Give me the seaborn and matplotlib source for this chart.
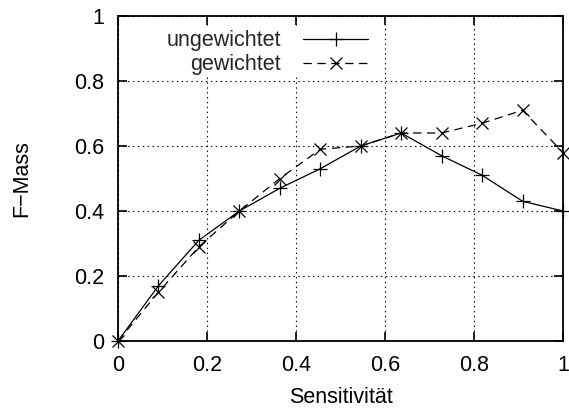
import matplotlib
matplotlib.use("Agg")
import matplotlib.pyplot as plt
import seaborn as sns
import pandas as pd

# Sensitivity steps (k/11) and F-measure values for both variants
sensitivitaet = [0.0, 1/11, 2/11, 3/11, 4/11, 5/11, 6/11, 7/11, 8/11, 9/11, 10/11, 1.0]
f_ungewichtet = [0.0, 0.17, 0.31, 0.40, 0.47, 0.53, 0.60, 0.64, 0.57, 0.51, 0.43, 0.40]
f_gewichtet = [0.0, 0.15, 0.29, 0.40, 0.50, 0.59, 0.60, 0.64, 0.64, 0.67, 0.71, 0.58]

x_ticks = [0, 0.2, 0.4, 0.6, 0.8, 1]
y_ticks = [0, 0.2, 0.4, 0.6, 0.8, 1]
tick_labels = ["0", "0.2", "0.4", "0.6", "0.8", "1"]

sns.set_theme(style="white")
plt.rcParams["font.family"] = ["Liberation Sans", "DejaVu Sans"]
plt.rcParams["lines.scale_dashes"] = False

fs = 15.5
fig = plt.figure(figsize=(5.69, 4.12), dpi=100)
ax = fig.add_axes([118 / 569, 71 / 412, 445 / 569, 325 / 412])

df_u = pd.DataFrame({"x": sensitivitaet, "y": f_ungewichtet})
df_g = pd.DataFrame({"x": sensitivitaet, "y": f_gewichtet})

sns.lineplot(data=df_u, x="x", y="y", ax=ax, color="black", linewidth=0.9,
             marker="+", markersize=10, markeredgecolor="black",
             markeredgewidth=0.9, label="ungewichtet", clip_on=False, zorder=3)
sns.lineplot(data=df_g, x="x", y="y", ax=ax, color="black", linewidth=0.9,
             linestyle=(0, (6, 4)), marker="x", markersize=9,
             markeredgecolor="black", markeredgewidth=0.9,
             label="gewichtet", clip_on=False, zorder=3)

ax.set_xlim(0, 1)
ax.set_ylim(0, 1)
ax.set_xticks(x_ticks)
ax.set_xticklabels(tick_labels)
ax.set_yticks(y_ticks)
ax.set_yticklabels(tick_labels)

ax.grid(True, color="black", linewidth=0.8, linestyle=(0, (1, 2.5)), zorder=1)
ax.set_axisbelow(True)
for sp in ax.spines.values():
    sp.set_visible(True)
    sp.set_color("black")
    sp.set_linewidth(1.3)

ax.tick_params(axis="both", which="major", direction="in", length=6.5, width=1.2,
               top=True, right=True, bottom=True, left=True,
               labelsize=fs, colors="black")
ax.tick_params(axis="y", pad=10)
ax.tick_params(axis="x", pad=10)

ax.set_xlabel("Sensitivität", fontsize=fs, color="black", labelpad=8)
ax.set_ylabel("F\u2212Mass", fontsize=fs, color="black", labelpad=30)

leg = ax.legend(loc="upper right", bbox_to_anchor=(0.564, 0.96), frameon=True,
                markerfirst=False, fontsize=fs, handlelength=3.0,
                handletextpad=1.05, labelspacing=0.15, borderpad=0.05,
                borderaxespad=0.0, fancybox=False)
leg.get_frame().set_edgecolor("none")
leg.get_frame().set_facecolor("white")
leg.get_frame().set_alpha(1.0)
leg.set_zorder(2)

fig.savefig("out.png", dpi=100)
